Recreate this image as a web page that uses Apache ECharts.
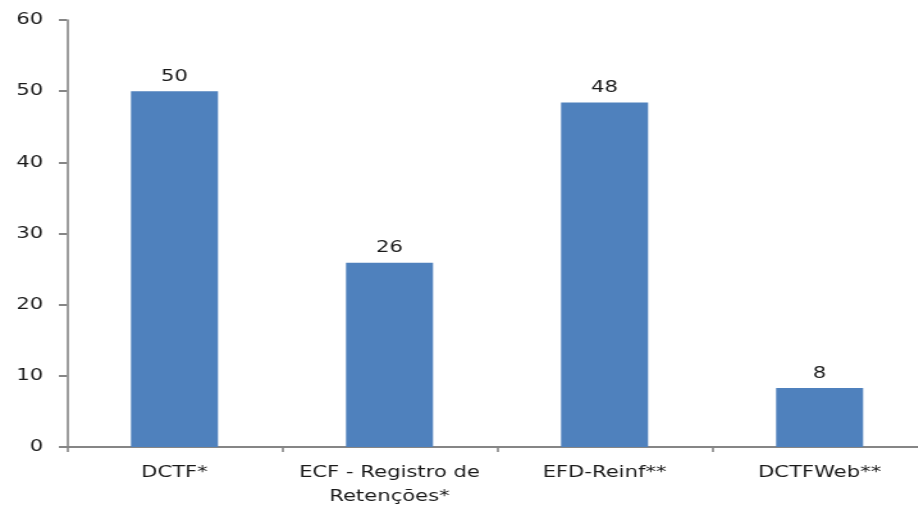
<!DOCTYPE html>
<html>
<head>
<meta charset="utf-8">
<script src="https://cdn.jsdelivr.net/npm/echarts@6/dist/echarts.min.js"></script>
<style>
html,body{margin:0;padding:0;background:#fff;overflow:hidden}
#c{width:717px;height:505px;transform:scaleX(1.28);transform-origin:0 0}
</style>
</head>
<body>
<div id="c"></div>
<script>
const categories = ["DCTF*", "ECF - Registro de\nRetenções*", "EFD-Reinf**", "DCTFWeb**"];
const values = [50, 25.9, 48.4, 8.3];
const yTicks = [0, 10, 20, 30, 40, 50, 60];

const chart = echarts.init(document.getElementById('c'), null, {renderer: 'canvas'});
const font = '"DejaVu Sans", Verdana, sans-serif';
chart.setOption({
  animation: false,
  grid: {left: 52.3, width: 672, top: 20, bottom: 58, containLabel: false, outerBoundsMode: 'none'},
  xAxis: {
    type: 'category',
    data: categories,
    axisLine: {lineStyle: {color: '#868686', width: 2}},
    axisTick: {show: true, length: 5, lineStyle: {color: '#868686', width: 1.6}},
    axisLabel: {color: '#1a1a1a', fontFamily: font, fontSize: 16.5, margin: 14, lineHeight: 24, interval: 0}
  },
  yAxis: {
    type: 'value',
    min: yTicks[0], max: yTicks[yTicks.length - 1], interval: 10,
    splitLine: {show: false},
    axisLine: {show: true, lineStyle: {color: '#868686', width: 1.6}},
    axisTick: {show: true, length: 6.3, lineStyle: {color: '#868686', width: 2}},
    axisLabel: {color: '#1a1a1a', fontFamily: font, fontSize: 16.5, margin: 18.5}
  },
  series: [{
    type: 'bar',
    data: values,
    barWidth: 68,
    itemStyle: {color: '#4F81BD'},
    label: {
      show: true, position: 'top', distance: 6,
      color: '#1a1a1a', fontFamily: font, fontSize: 16.5,
      formatter: p => Math.round(p.value)
    }
  }]
});
</script>
</body>
</html>
